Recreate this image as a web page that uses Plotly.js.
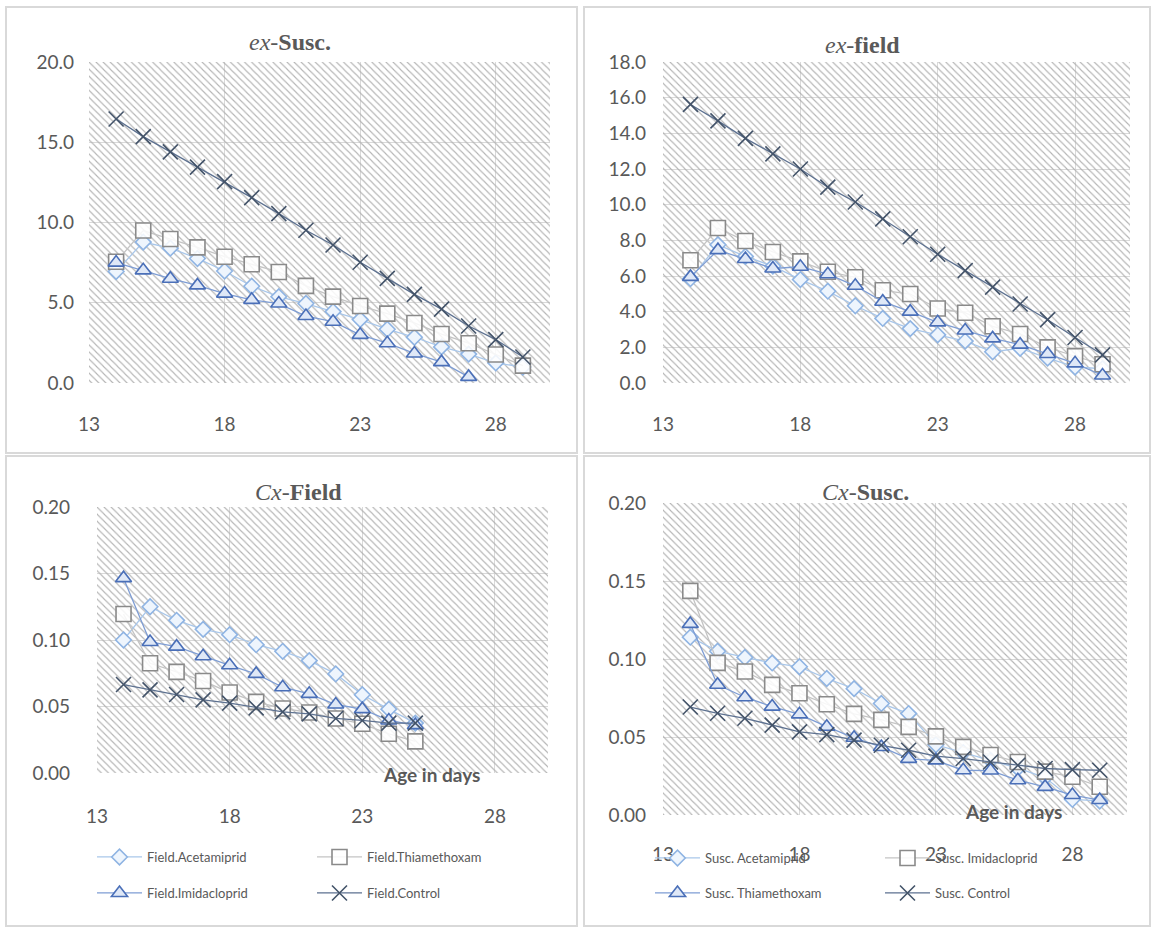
<!DOCTYPE html>
<html>
<head>
<meta charset="utf-8">
<script src="https://cdn.plot.ly/plotly-3.0.1.min.js"></script>
<style>
  html, body { margin: 0; padding: 0; background: #ffffff; }
  #chart { width: 1155px; height: 929px; }
</style>
</head>
<body>
<div id="chart"></div>
<script>
// ---------------- DATA ----------------
const age = [14, 15, 16, 17, 18, 19, 20, 21, 22, 23, 24, 25, 26, 27, 28, 29];
const ageShort = [14, 15, 16, 17, 18, 19, 20, 21, 22, 23, 24, 25];
const ageExSuscThiam = [14, 15, 16, 17, 18, 19, 20, 21, 22, 23, 24, 25, 26, 27];

// ex - Susceptible
const exSuscAcetamiprid  = [6.95, 8.78, 8.40, 7.76, 6.98, 6.03, 5.38, 4.95, 4.45, 3.95, 3.35, 2.85, 2.25, 1.80, 1.25, 1.00];
const exSuscImidacloprid = [7.55, 9.50, 8.97, 8.45, 7.87, 7.40, 6.92, 6.05, 5.38, 4.80, 4.32, 3.74, 3.05, 2.48, 1.78, 1.08];
const exSuscThiamethoxam = [7.50, 7.02, 6.50, 6.08, 5.57, 5.18, 4.95, 4.17, 3.82, 3.00, 2.48, 1.84, 1.30, 0.38];
const exSuscControl      = [16.45, 15.35, 14.40, 13.45, 12.55, 11.55, 10.55, 9.52, 8.60, 7.52, 6.52, 5.52, 4.60, 3.55, 2.70, 1.62];

// ex - Field
const exFieldAcetamiprid  = [5.85, 7.75, 7.10, 6.55, 5.80, 5.15, 4.33, 3.62, 3.05, 2.70, 2.35, 1.75, 1.95, 1.40, 0.90, 0.80];
const exFieldThiamethoxam = [6.88, 8.69, 7.96, 7.35, 6.82, 6.24, 5.93, 5.20, 4.99, 4.18, 3.94, 3.18, 2.75, 2.00, 1.50, 1.05];
const exFieldImidacloprid = [5.95, 7.45, 6.95, 6.42, 6.52, 6.10, 5.45, 4.56, 4.00, 3.40, 2.94, 2.50, 2.15, 1.63, 1.10, 0.42];
const exFieldControl      = [15.62, 14.70, 13.72, 12.85, 12.00, 10.98, 10.15, 9.20, 8.20, 7.22, 6.30, 5.38, 4.43, 3.55, 2.55, 1.58];

// Cx - Field
const cxFieldAcetamiprid  = [0.1000, 0.1250, 0.1148, 0.1080, 0.1040, 0.0965, 0.0915, 0.0845, 0.0745, 0.0588, 0.0480, 0.0375];
const cxFieldThiamethoxam = [0.1195, 0.0825, 0.0760, 0.0692, 0.0605, 0.0535, 0.0485, 0.0455, 0.0410, 0.0370, 0.0295, 0.0238];
const cxFieldImidacloprid = [0.1465, 0.0985, 0.0950, 0.0878, 0.0810, 0.0745, 0.0645, 0.0595, 0.0515, 0.0480, 0.0395, 0.0360];
const cxFieldControl      = [0.0665, 0.0625, 0.0590, 0.0550, 0.0525, 0.0490, 0.0460, 0.0445, 0.0410, 0.0395, 0.0375, 0.0375];

// Cx - Susceptible
const cxSuscAcetamiprid  = [0.1140, 0.1050, 0.1010, 0.0975, 0.0950, 0.0875, 0.0810, 0.0715, 0.0650, 0.0450, 0.0400, 0.0350, 0.0300, 0.0240, 0.0100, 0.0090];
const cxSuscImidacloprid = [0.1437, 0.0975, 0.0920, 0.0834, 0.0780, 0.0710, 0.0648, 0.0610, 0.0565, 0.0504, 0.0437, 0.0385, 0.0340, 0.0278, 0.0245, 0.0181];
const cxSuscThiamethoxam = [0.1225, 0.0835, 0.0755, 0.0695, 0.0645, 0.0566, 0.0495, 0.0436, 0.0360, 0.0350, 0.0287, 0.0285, 0.0223, 0.0180, 0.0128, 0.0096];
const cxSuscControl      = [0.0692, 0.0652, 0.0620, 0.0576, 0.0533, 0.0515, 0.0480, 0.0447, 0.0415, 0.0377, 0.0362, 0.0340, 0.0319, 0.0298, 0.0291, 0.0287];

// Titles and labels
const panelTitles = ['<i>ex</i>-<b>Susc.</b>', '<i>ex</i>-<b>field</b>', '<i>Cx</i>-<b>Field</b>', '<i>Cx</i>-<b>Susc.</b>'];
const xAxisLabel = '<b>Age in days</b>';
const fieldNames = ['Field.Acetamiprid', 'Field.Thiamethoxam', 'Field.Imidacloprid', 'Field.Control'];
const suscNames  = ['Susc. Acetamiprid', 'Susc. Imidacloprid', 'Susc. Thiamethoxam', 'Susc. Control'];

// Axis ranges
const xRange = [13, 30];
const yRangeExSusc = [0, 20];
const yRangeExField = [0, 18];
const yRangeCx = [0, 0.2];

// ---------------- STYLES ----------------
const W = 1155, H = 929;
const px = v => v / W;
const py = v => 1 - v / H;
const textGray = '#595959';
const gridGray = '#d9d9d9';

const styles = {
  diamond: { symbol: 'diamond', size: 12, fill: '#eef5fd', edge: '#8fb4e3', line: '#a9c7ea' },
  square:  { symbol: 'square', size: 15, fill: 'rgba(255,255,255,0.85)', edge: '#8a8a8a', line: '#c4c4c4' },
  triangle:{ symbol: 'triangle-up', size: 14, fill: '#dfe8f7', edge: '#4a6fb8', line: '#7e9dd4' },
  cross:   { symbol: 'x-thin', size: 15, fill: '#44546a', edge: '#44546a', line: '#5d7190' }
};

function series(x, y, st, xa, ya, name, legendId, show) {
  return {
    type: 'scatter', mode: 'lines+markers', x: x, y: y, name: name,
    xaxis: xa, yaxis: ya,
    legend: legendId || 'legend', showlegend: !!show,
    line: { color: st.line, width: 1.3 },
    marker: { symbol: st.symbol, size: st.size, color: st.fill,
              line: { color: st.edge, width: 1.6 } },
    hoverinfo: 'x+y+name'
  };
}

function hatch(xa, ya, yr) {
  return {
    type: 'scatter', mode: 'lines', xaxis: xa, yaxis: ya,
    x: [xRange[0], xRange[1], xRange[1], xRange[0], xRange[0]],
    y: [yr[0], yr[0], yr[1], yr[1], yr[0]],
    fill: 'toself', line: { width: 0, color: 'rgba(0,0,0,0)' },
    fillcolor: 'rgba(0,0,0,0)',
    fillpattern: { shape: '\\', size: 5, solidity: 0.22, fgcolor: '#acacac', fgopacity: 0.9, bgcolor: 'rgba(0,0,0,0)' },
    showlegend: false, hoverinfo: 'skip'
  };
}

const traces = [
  hatch('x', 'y', yRangeExSusc),
  hatch('x2', 'y2', yRangeExField),
  hatch('x3', 'y3', yRangeCx),
  hatch('x4', 'y4', yRangeCx),

  // ex-Susc.
  series(age, exSuscAcetamiprid, styles.diamond, 'x', 'y', suscNames[0]),
  series(age, exSuscImidacloprid, styles.square, 'x', 'y', suscNames[1]),
  series(ageExSuscThiam, exSuscThiamethoxam, styles.triangle, 'x', 'y', suscNames[2]),
  series(age, exSuscControl, styles.cross, 'x', 'y', suscNames[3]),

  // ex-field
  series(age, exFieldAcetamiprid, styles.diamond, 'x2', 'y2', fieldNames[0]),
  series(age, exFieldThiamethoxam, styles.square, 'x2', 'y2', fieldNames[1]),
  series(age, exFieldImidacloprid, styles.triangle, 'x2', 'y2', fieldNames[2]),
  series(age, exFieldControl, styles.cross, 'x2', 'y2', fieldNames[3]),

  // Cx-Field
  series(ageShort, cxFieldAcetamiprid, styles.diamond, 'x3', 'y3', fieldNames[0], 'legend', true),
  series(ageShort, cxFieldThiamethoxam, styles.square, 'x3', 'y3', fieldNames[1], 'legend', true),
  series(ageShort, cxFieldImidacloprid, styles.triangle, 'x3', 'y3', fieldNames[2], 'legend2', true),
  series(ageShort, cxFieldControl, styles.cross, 'x3', 'y3', fieldNames[3], 'legend2', true),

  // Cx-Susc.
  series(age, cxSuscAcetamiprid, styles.diamond, 'x4', 'y4', suscNames[0], 'legend3', true),
  series(age, cxSuscImidacloprid, styles.square, 'x4', 'y4', suscNames[1], 'legend3', true),
  series(age, cxSuscThiamethoxam, styles.triangle, 'x4', 'y4', suscNames[2], 'legend4', true),
  series(age, cxSuscControl, styles.cross, 'x4', 'y4', suscNames[3], 'legend4', true)
];

const tickFont = { family: 'Lato, "Liberation Sans", sans-serif', size: 19, color: textGray };

function xAxis(dom, anchor, standoff) {
  return {
    domain: dom, anchor: anchor, range: xRange.slice(), tick0: 13, dtick: 5,
    showgrid: true, gridcolor: gridGray, gridwidth: 1.3, zeroline: false, showline: false,
    ticks: '', tickfont: tickFont, ticklabelstandoff: standoff, fixedrange: true
  };
}
function yAxis(dom, anchor, yr, dtick, fmt, standoff) {
  return {
    domain: dom, anchor: anchor, range: yr.slice(), tick0: 0, dtick: dtick, tickformat: fmt,
    showgrid: true, gridcolor: gridGray, gridwidth: 1.3, zeroline: false, showline: false,
    ticks: '', tickfont: tickFont, ticklabelstandoff: standoff, fixedrange: true
  };
}

const legendFont = { family: 'Lato, "Liberation Sans", sans-serif', size: 13, color: textGray };
function legendAt(x, y, ew) {
  return {
    orientation: 'h', x: px(x), xanchor: 'left', y: py(y), yanchor: 'middle',
    bgcolor: 'rgba(0,0,0,0)', font: legendFont, entrywidth: ew, itemwidth: 45,
    itemclick: false, itemdoubleclick: false
  };
}

const titleFont = { family: '"Liberation Serif", "Times New Roman", serif', size: 24, color: textGray };
const ageFont = { family: 'Lato, "Liberation Sans", sans-serif', size: 19, color: textGray };

function border(x0, y0, x1, y1) {
  return { type: 'rect', xref: 'paper', yref: 'paper', x0: px(x0), x1: px(x1), y0: py(y1), y1: py(y0),
           line: { color: '#d9d9d9', width: 2 }, fillcolor: 'rgba(0,0,0,0)', layer: 'below' };
}
function label(text, x, y, font) {
  return { text: text, xref: 'paper', yref: 'paper', x: px(x), y: py(y),
           xanchor: 'center', yanchor: 'middle', showarrow: false, font: font };
}

const layout = {
  width: W, height: H,
  margin: { l: 0, r: 0, t: 0, b: 0 },
  paper_bgcolor: '#ffffff', plot_bgcolor: 'rgba(0,0,0,0)',
  font: { family: 'Lato, "Liberation Sans", sans-serif', color: textGray },
  hovermode: 'closest',
  xaxis:  xAxis([px(89), px(550)], 'y', 28),
  yaxis:  yAxis([py(383), py(62)], 'x', yRangeExSusc, 5, '.1f', 14),
  xaxis2: xAxis([px(663), px(1130)], 'y2', 28),
  yaxis2: yAxis([py(383), py(62)], 'x2', yRangeExField, 2, '.1f', 16),
  xaxis3: xAxis([px(97), px(548)], 'y3', 30),
  yaxis3: yAxis([py(773), py(507)], 'x3', yRangeCx, 0.05, '.2f', 26),
  xaxis4: xAxis([px(663), px(1127)], 'y4', 26),
  yaxis4: yAxis([py(815), py(503)], 'x4', yRangeCx, 0.05, '.2f', 16),
  legend:  legendAt(92, 857, 160),
  legend2: legendAt(92, 893, 160),
  legend3: legendAt(650, 858, 170),
  legend4: legendAt(650, 893, 170),
  shapes: [
    border(6, 7, 577, 453),
    border(584, 7, 1150, 453),
    border(6, 456, 577, 926),
    border(584, 456, 1150, 926)
  ],
  annotations: [
    label(panelTitles[0], 290, 42, titleFont),
    label(panelTitles[1], 862, 45, titleFont),
    label(panelTitles[2], 298, 492, titleFont),
    label(panelTitles[3], 865, 492, titleFont),
    label(xAxisLabel, 431, 774, ageFont),
    label(xAxisLabel, 1013, 811, ageFont)
  ]
};

Plotly.newPlot('chart', traces, layout, { displayModeBar: false, responsive: false });
</script>
</body>
</html>
